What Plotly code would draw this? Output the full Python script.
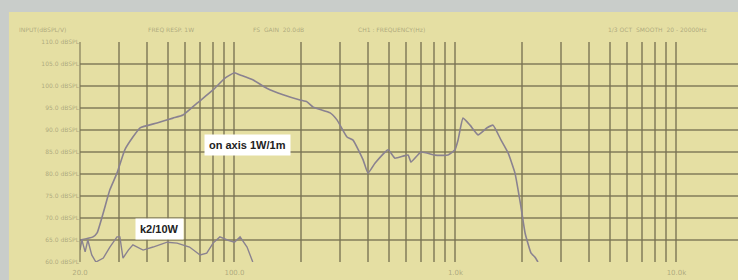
import plotly.graph_objects as go
import math

# ---------------- data ----------------
on_axis_freq = [20, 22.9, 23.9, 27.3, 29.4, 31.9, 34.7, 37.4, 44.6, 52.7, 58.5, 67.7, 80.0, 90.6,
                100, 106, 121, 140, 166, 198, 213, 227, 271, 291, 323, 344, 382, 402, 433, 496,
                532, 610, 629, 698, 807, 925, 995, 1027, 1082, 1164, 1265, 1390, 1479, 1608,
                1730, 1859, 1979, 2065, 2198, 2291, 2362]
on_axis_db = [65.0, 65.7, 66.6, 76.4, 80.2, 85.5, 88.4, 90.5, 91.6, 92.7, 93.4, 96.1, 99.1, 101.8,
              103.0, 102.5, 101.4, 99.5, 98.0, 96.8, 96.4, 95.2, 93.9, 92.3, 88.4, 87.7, 83.2, 80.2,
              82.5, 85.5, 83.6, 84.3, 82.7, 85.0, 84.3, 84.3, 85.5, 87.7, 92.7, 91.1, 88.9, 90.5,
              91.1, 87.7, 84.8, 80.2, 72.5, 66.6, 62.0, 61.1, 60.0]

k2_freq = [20, 20.4, 21.1, 21.7, 22.6, 23.6, 25.5, 27.3, 29.4, 30.3, 31.3, 33.1, 34.7, 38.6,
           42.8, 49.6, 55.0, 62.6, 69.9, 74.9, 80.0, 85.9, 92.8, 100, 106, 114, 121]
k2_db = [62.7, 65.0, 62.3, 65.0, 61.6, 60.0, 60.9, 63.4, 65.7, 65.7, 60.9, 62.7, 63.9, 62.7,
         63.4, 64.5, 64.3, 63.4, 61.6, 62.0, 64.3, 65.7, 65.0, 64.5, 65.7, 63.4, 60.0]

grid_freqs = [20, 30, 40, 50, 60, 70, 80, 90, 100, 200, 300, 400, 500, 600, 700, 800, 900,
              1000, 2000, 3000, 4000, 5000, 6000, 7000, 8000, 9000, 10000, 20000]
freq_labels = {20: "20.0", 100: "100.0", 1000: "1.0k", 10000: "10.0k", 20000: "20.0k"}
db_ticks = [60, 65, 70, 75, 80, 85, 90, 95, 100, 105, 110]
db_labels = ["60.0 dBSPL", "65.0 dBSPL", "70.0 dBSPL", "75.0 dBSPL", "80.0 dBSPL", "85.0 dBSPL",
             "90.0 dBSPL", "95.0 dBSPL", "100.0 dBSPL", "105.0 dBSPL", "110.0 dBSPL"]

PAPER = "#e5dfa3"
GRID = "rgba(120,114,82,0.68)"
CURVE = "#8a8290"
FAINT = "rgba(150,145,110,0.7)"
BORDER = "#c9cdca"

fig = go.Figure()
fig.add_trace(go.Scatter(x=on_axis_freq, y=on_axis_db, mode="lines",
                         line=dict(color=CURVE, width=1.6, shape="spline", smoothing=0.4),
                         showlegend=False, hoverinfo="skip"))
fig.add_trace(go.Scatter(x=k2_freq, y=k2_db, mode="lines",
                         line=dict(color=CURVE, width=1.4), showlegend=False, hoverinfo="skip"))

# visible range: right edge of the window is just below 20 kHz
xmin = math.log10(20)
xmax = xmin + 658 / 221

fig.update_xaxes(type="log", range=[xmin, xmax], tickvals=grid_freqs,
                 ticktext=[freq_labels.get(f, "") for f in grid_freqs],
                 showgrid=True, gridcolor=GRID, gridwidth=1.6, zeroline=False,
                 showline=False, ticks="outside", ticklen=4, tickcolor="rgba(0,0,0,0)",
                 automargin=False,
                 tickfont=dict(family="DejaVu Sans", size=7, color=FAINT))
fig.update_yaxes(range=[60, 110], tickvals=db_ticks, ticktext=db_labels,
                 showgrid=True, gridcolor=GRID, gridwidth=1.6, zeroline=False,
                 showline=False, ticks="", automargin=False,
                 tickfont=dict(family="DejaVu Sans", size=6, color=FAINT))

# photograph surroundings (grey strip at top and left)
fig.add_shape(type="rect", xref="paper", yref="paper", x0=-0.13, x1=1.02, y0=1.136, y1=1.25,
              fillcolor=BORDER, line_width=0, layer="below")
fig.add_shape(type="rect", xref="paper", yref="paper", x0=-0.13, x1=-0.108, y0=-0.2, y1=1.25,
              fillcolor=BORDER, line_width=0, layer="below")
# left border of the grid
fig.add_shape(type="line", xref="paper", yref="paper", x0=0, x1=0, y0=0, y1=1,
              line=dict(color=GRID, width=1.6))

# faint header texts
hdr = [(-0.095, "INPUT(dBSPL/V)"), (0.10, "FREQ RESP. 1W"), (0.26, "FS  GAIN  20.0dB"),
       (0.42, "CH1 : FREQUENCY(Hz)"), (0.80, "1/3 OCT  SMOOTH  20 - 20000Hz")]
for x, t in hdr:
    fig.add_annotation(xref="paper", yref="paper", x=x, y=1.03, text=t, showarrow=False,
                       xanchor="left", yanchor="bottom",
                       font=dict(family="DejaVu Sans", size=6, color=FAINT))

# curve labels (annotation x on a log axis is given in log10 units)
fig.add_annotation(x=math.log10(115), y=86.7, text="<b>on axis 1W/1m</b>", showarrow=False,
                   bgcolor="white", borderpad=4, xanchor="center", yanchor="middle",
                   font=dict(family="Liberation Sans", size=11, color="#222222"))
fig.add_annotation(x=math.log10(46), y=67.6, text="<b>k2/10W</b>", showarrow=False,
                   bgcolor="white", borderpad=4, xanchor="center", yanchor="middle",
                   font=dict(family="Liberation Sans", size=11, color="#222222"))

fig.update_layout(width=738, height=280, margin=dict(l=80, r=0, t=42, b=18),
                  paper_bgcolor=PAPER, plot_bgcolor=PAPER, showlegend=False)

fig.write_html("out.html", config={"displayModeBar": False},
               post_script="document.body.style.margin='0';document.body.style.background='%s';" % BORDER)
